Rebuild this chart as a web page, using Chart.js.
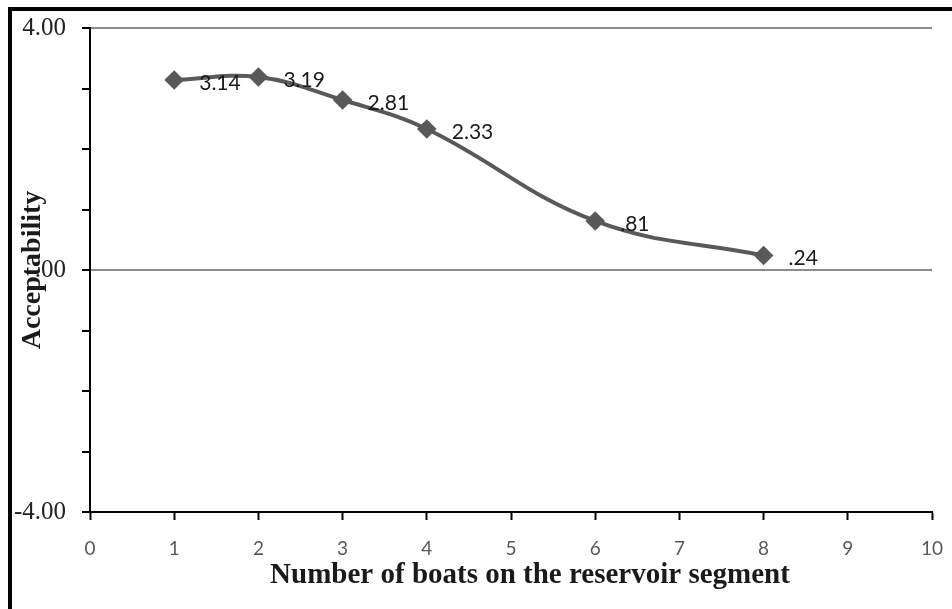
<!DOCTYPE html>
<html>
<head>
<meta charset="utf-8">
<script src="https://cdn.jsdelivr.net/npm/chart.js@4"></script>
<style>
  html, body { margin: 0; padding: 0; background: #fff; }
  #wrap { position: relative; width: 952px; height: 609px; }
  #frame { position: absolute; left: 8px; top: 7px; right: -10px; bottom: -10px;
           border-left: 4px solid #000; border-top: 4px solid #000; }
  canvas { position: absolute; left: 0; top: 0; }
</style>
</head>
<body>
<div id="wrap">
  <div id="frame"></div>
  <canvas id="lineChart" width="952" height="609"></canvas>
</div>
<script>
const boats = [1, 2, 3, 4, 6, 8];
const acceptability = [3.14, 3.19, 2.81, 2.33, 0.81, 0.24];
const valueLabels = ["3.14", "3.19", "2.81", "2.33", ".81", ".24"];
const yTickLabels = { "4": "4.00", "0": ".00", "-4": "-4.00" };
const xTitle = "Number of boats on the reservoir segment";

document.addEventListener("DOMContentLoaded", () => {
    const lineColor = "#595959";

    // value labels beside each point + x axis title (sits a bit right of centre)
    const extras = {
        id: "extras",
        afterDatasetsDraw(chart) {
            const ctx = chart.ctx;
            const meta = chart.getDatasetMeta(0);
            ctx.save();
            ctx.font = "21px Lato";
            ctx.fillStyle = "#1a1a1a";
            ctx.textAlign = "left";
            ctx.textBaseline = "middle";
            meta.data.forEach((pt, i) => {
                ctx.fillText(valueLabels[i], pt.x + 25, pt.y + 3);
            });
            ctx.restore();
        },
        afterDraw(chart) {
            const ctx = chart.ctx;
            const x = chart.scales.x;
            ctx.save();
            ctx.font = "bold 29px 'Liberation Serif'";
            ctx.fillStyle = "#1a1a1a";
            ctx.textAlign = "center";
            ctx.textBaseline = "alphabetic";
            ctx.fillText(xTitle, x.getPixelForValue(5) + 19, x.bottom - 26);
            ctx.restore();
        }
    };

    const ctxLine = document.getElementById("lineChart").getContext("2d");
    new Chart(ctxLine, {
        type: "line",
        data: {
            datasets: [{
                data: boats.map((b, i) => ({ x: b, y: acceptability[i] })),
                borderColor: lineColor,
                backgroundColor: lineColor,
                borderWidth: 4,
                tension: 0.4,
                pointStyle: "rectRot",
                pointRadius: 7,
                pointHoverRadius: 7
            }]
        },
        options: {
            responsive: false,
            animation: false,
            layout: { padding: { left: 12, top: 28, right: 20, bottom: 0 } },
            plugins: { legend: { display: false }, tooltip: { enabled: false } },
            scales: {
                x: {
                    type: "linear",
                    min: 0,
                    max: 10,
                    afterFit: (s) => { s.height = 97; s.paddingRight = 0; s.paddingLeft = 0; },
                    ticks: { stepSize: 1, padding: 17, color: "#595959", font: { family: "Lato", size: 19 } },
                    grid: { drawOnChartArea: false, tickLength: 8, tickColor: "#000", tickWidth: 2 },
                    border: { color: "#000", width: 2 }
                },
                y: {
                    min: -4,
                    max: 4,
                    afterFit: (s) => { s.width = 78; s.paddingTop = 0; s.paddingBottom = 0; },
                    ticks: {
                        stepSize: 1,
                        padding: 16,
                        color: "#222",
                        font: { family: "Liberation Serif", size: 25 },
                        callback: (v) => yTickLabels[String(v)] || ""
                    },
                    grid: {
                        color: (c) => (c.tick && (c.tick.value === 4 || c.tick.value === 0)) ? "#8c8c8c" : "rgba(0,0,0,0)",
                        lineWidth: 2,
                        tickLength: 8,
                        tickColor: "#000",
                        tickWidth: 2
                    },
                    border: { color: "#000", width: 2 },
                    title: {
                        display: true,
                        text: "Acceptability",
                        color: "#1a1a1a",
                        font: { family: "Liberation Serif", size: 28, weight: "bold" },
                        padding: { top: 4, bottom: 0 }
                    }
                }
            }
        },
        plugins: [extras]
    });
});
</script>
</body>
</html>
